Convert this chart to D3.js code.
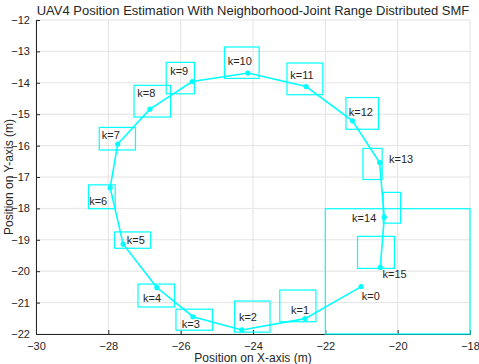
<!DOCTYPE html>
<html>
<head>
<meta charset="utf-8">
<script src="https://cdn.jsdelivr.net/npm/d3@7"></script>
<style>
  body { margin: 0; background: #fff; }
  svg { display: block; font-family: "Liberation Sans", Arial, sans-serif; }
</style>
</head>
<body>
<svg id="chart" width="479" height="364"></svg>
<script>
'use strict';

// estimated positions, k = 0..15
var steps = d3.range(16);
var estX = [-21.01, -22.56, -24.31, -25.66, -26.66, -27.59, -27.95, -27.74,
            -26.85, -25.68, -24.14, -22.53, -21.25, -20.50, -20.37, -20.48];
var estY = [-20.49, -21.51, -21.87, -21.45, -20.52, -19.14, -17.34, -15.95,
            -14.84, -13.96, -13.69, -14.12, -15.21, -16.54, -18.28, -19.88];

// bounding boxes of each step
var boxX0 = [-22.00, -23.26, -24.51, -26.13, -27.18, -27.83, -28.55, -28.25,
             -27.29, -26.40, -24.79, -23.06, -21.43, -20.96, -20.40, -21.11];
var boxX1 = [-18.00, -22.26, -23.53, -25.12, -26.17, -26.83, -27.81, -27.25,
             -26.28, -25.62, -23.83, -22.07, -20.53, -20.43, -19.92, -20.09];
var boxY0 = [-22.00, -21.61, -21.94, -21.88, -21.14, -19.27, -18.01, -16.14,
             -15.09, -14.35, -13.86, -14.38, -15.48, -17.08, -18.47, -19.91];
var boxY1 = [-18.01, -20.60, -20.95, -21.21, -20.41, -18.75, -17.25, -15.42,
             -14.08, -13.35, -12.86, -13.37, -14.47, -16.09, -17.49, -18.89];

// label anchors (left, middle)
var labX = [-20.99, -22.95, -24.39, -25.97, -27.04, -27.49, -28.53, -28.18,
            -27.20, -26.29, -24.70, -22.97, -21.35, -20.24, -21.26, -20.42];
var labY = [-20.81, -21.23, -21.45, -21.69, -20.86, -19.01, -17.77, -15.68,
            -14.33, -13.62, -13.30, -13.76, -14.94, -16.43, -18.30, -20.09];

var xTicks = [-30, -28, -26, -24, -22, -20, -18];
var yTicks = [-22, -21, -20, -19, -18, -17, -16, -15, -14, -13, -12];

var margin = {top: 20, right: 9, bottom: 30, left: 36};
var W = 479, H = 364;
var gw = W - margin.left - margin.right;
var gh = H - margin.top - margin.bottom;

var svg = d3.select('#chart');
var x = d3.scaleLinear().domain([-30, -18]).range([0, gw]);
var y = d3.scaleLinear().domain([-22, -12]).range([gh, 0]);

var g = svg.append('g').attr('transform', 'translate(' + margin.left + ',' + margin.top + ')');

// clip a little wider than the axes so edge strokes stay visible
svg.append('defs').append('clipPath').attr('id', 'clip')
  .append('rect').attr('x', -2).attr('y', -2).attr('width', gw + 4).attr('height', gh + 4);

// grid
g.append('g').selectAll('line').data(xTicks).enter().append('line')
  .attr('x1', function(d) { return x(d); }).attr('x2', function(d) { return x(d); })
  .attr('y1', 0).attr('y2', gh)
  .attr('stroke', '#e3e3e3').attr('stroke-width', 1);
g.append('g').selectAll('line').data(yTicks).enter().append('line')
  .attr('y1', function(d) { return y(d); }).attr('y2', function(d) { return y(d); })
  .attr('x1', 0).attr('x2', gw)
  .attr('stroke', '#e3e3e3').attr('stroke-width', 1);

// axes
var xAxis = g.append('g').attr('transform', 'translate(0,' + gh + ')')
  .call(d3.axisBottom(x).tickValues(xTicks).tickSize(-4).tickPadding(8).tickFormat(d3.format('d')));
var yAxis = g.append('g')
  .call(d3.axisLeft(y).tickValues(yTicks).tickSize(-4).tickPadding(6).tickFormat(d3.format('d')));
[xAxis, yAxis].forEach(function(a) {
  a.select('.domain').attr('stroke', '#262626');
  a.selectAll('.tick line').attr('stroke', '#262626');
  a.selectAll('.tick text').attr('fill', '#262626').style('font-size', '11px')
    .style('font-family', '"Liberation Sans", Arial, sans-serif');
});

var plot = g.append('g').attr('clip-path', 'url(#clip)');

// boxes
plot.selectAll('.box').data(steps).enter().append('rect')
  .attr('class', 'box')
  .attr('x', function(i) { return x(boxX0[i]); })
  .attr('y', function(i) { return y(boxY1[i]); })
  .attr('width', function(i) { return x(boxX1[i]) - x(boxX0[i]); })
  .attr('height', function(i) { return y(boxY0[i]) - y(boxY1[i]); })
  .attr('fill', 'none').attr('stroke', '#00ffff').attr('stroke-width', 1.2);

// trajectory
var line = d3.line().x(function(i) { return x(estX[i]); }).y(function(i) { return y(estY[i]); });
plot.append('path').datum(steps).attr('d', line)
  .attr('fill', 'none').attr('stroke', '#00ffff').attr('stroke-width', 1.6);

plot.selectAll('.pt').data(steps).enter().append('circle')
  .attr('class', 'pt')
  .attr('cx', function(i) { return x(estX[i]); })
  .attr('cy', function(i) { return y(estY[i]); })
  .attr('r', 2.6).attr('fill', '#00ffff');

// labels
g.selectAll('.lab').data(steps).enter().append('text')
  .attr('class', 'lab')
  .attr('x', function(i) { return x(labX[i]); })
  .attr('y', function(i) { return y(labY[i]); })
  .attr('dy', '0.35em')
  .attr('fill', '#262626').style('font-size', '11px')
  .text(function(i) { return 'k=' + i; });

// titles
svg.append('text').attr('x', margin.left + gw / 2).attr('y', 15)
  .attr('text-anchor', 'middle').attr('fill', '#262626').style('font-size', '13px')
  .text('UAV4 Position Estimation With Neighborhood-Joint Range Distributed SMF');
svg.append('text').attr('x', margin.left + gw / 2).attr('y', 362)
  .attr('text-anchor', 'middle').attr('fill', '#262626').style('font-size', '12px')
  .text('Position on X-axis (m)');
svg.append('text').attr('transform', 'translate(13,' + (margin.top + gh / 2) + ') rotate(-90)')
  .attr('text-anchor', 'middle').attr('fill', '#262626').style('font-size', '12px')
  .text('Position on Y-axis (m)');
</script>
</body>
</html>
